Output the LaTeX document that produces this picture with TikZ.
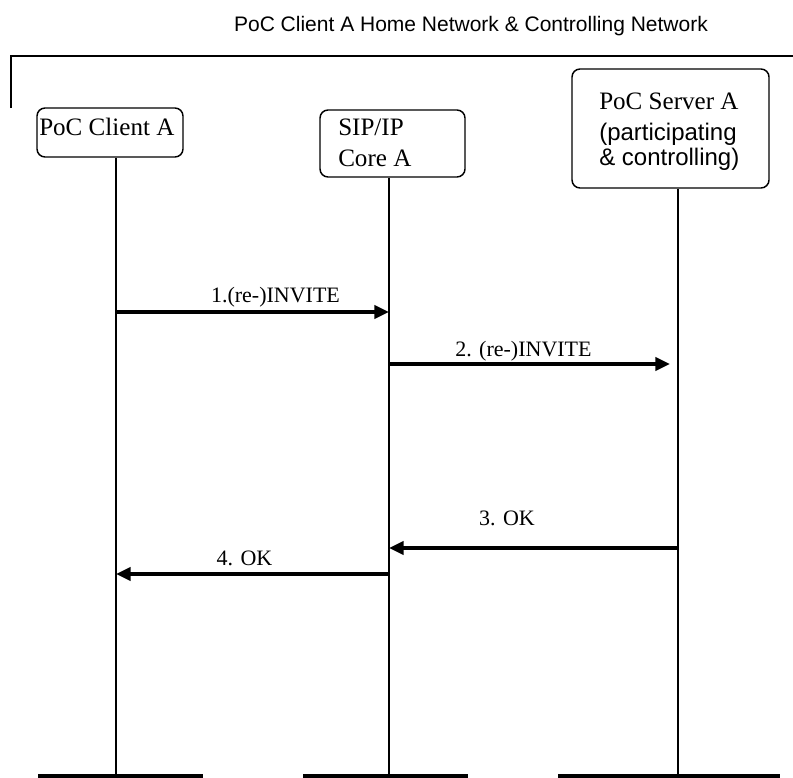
\documentclass[tikz,border=0pt]{standalone}
\usepackage{fontspec}
\setmainfont{Liberation Serif}
\newfontfamily\arialf{Liberation Sans}
\usetikzlibrary{arrows.meta,fit}
\begin{document}
\begin{tikzpicture}[x=0.75pt,y=-0.75pt,
  ent/.style={draw,line width=1.1pt,rounded corners=6pt,inner sep=0pt},
  life/.style={line width=1.1pt},
  msg/.style={line width=2.4pt,-{Triangle[length=11pt,width=10pt]}},
  lbl/.style={font=\fontsize{16.5}{20}\selectfont,anchor=base,inner sep=0pt},
  bar/.style={line width=3.5pt},
  txt/.style={font=\fontsize{18.8}{23}\selectfont,anchor=base west,inner sep=0pt},
  atxt/.style={font=\arialf\fontsize{18}{22}\selectfont,anchor=base west,inner sep=0pt}]
\useasboundingbox (0,0) rectangle (793,778);
% title
\node[font=\arialf\fontsize{15.75}{19}\selectfont] (title) at (471,26) {PoC Client A Home Network \& Controlling Network};
% frame
\coordinate (f1) at (11,108);
\coordinate (f2) at (11,56);
\coordinate (f3) at (793,56);
\draw[life] (f1) -- (f2) -- (f3);
% entities
\node[ent, fit={(37,108) (183,157)}] (ca) {};
\node[txt] (catxt) at (39,135) {PoC Client A};
\node[ent, fit={(320,110) (465,177)}] (sip) {};
\node[txt] (siptxt1) at (338,135) {SIP/IP};
\node[txt] (siptxt2) at (338,166) {Core A};
\node[ent, fit={(572,69) (769,188)}] (srv) {};
\node[txt] (srvtxt1) at (599,109) {PoC Server A};
\node[atxt] (srvtxt2) at (599,140) {(participating};
\node[atxt] (srvtxt3) at (599,165) {\& controlling)};
% lifeline ends
\coordinate (cab) at (116,776);
\coordinate (sipb) at (389,776);
\coordinate (srvb) at (678,776);
\draw[life] (ca.south -| cab) -- (cab);
\draw[life] (sip.south -| sipb) -- (sipb);
\draw[life] (srv.south -| srvb) -- (srvb);
% bottom bars
\coordinate (b1l) at (38,776); \coordinate (b1r) at (203,776);
\coordinate (b2l) at (303,776); \coordinate (b2r) at (468,776);
\coordinate (b3l) at (558,776); \coordinate (b3r) at (780,776);
\draw[bar] (b1l) -- (b1r);
\draw[bar] (b2l) -- (b2r);
\draw[bar] (b3l) -- (b3r);
% messages
\coordinate (m1a) at (116,312); \coordinate (m1b) at (389,312);
\coordinate (m2a) at (389,364); \coordinate (m2b) at (670,364);
\coordinate (m3a) at (678,548); \coordinate (m3b) at (389,548);
\coordinate (m4a) at (389,574); \coordinate (m4b) at (116,574);
\draw[msg] (m1a) -- (m1b);
\draw[msg] (m2a) -- (m2b);
\draw[msg] (m3a) -- (m3b);
\draw[msg] (m4a) -- (m4b);
\node[lbl] (l1) at (275.5,302) {1.(re-)INVITE};
\node[lbl] (l2) at (523.5,356) {2. (re-)INVITE};
\node[lbl] (l3) at (507,525) {3. OK};
\node[lbl] (l4) at (244.5,565) {4. OK};
\end{tikzpicture}
\end{document}
